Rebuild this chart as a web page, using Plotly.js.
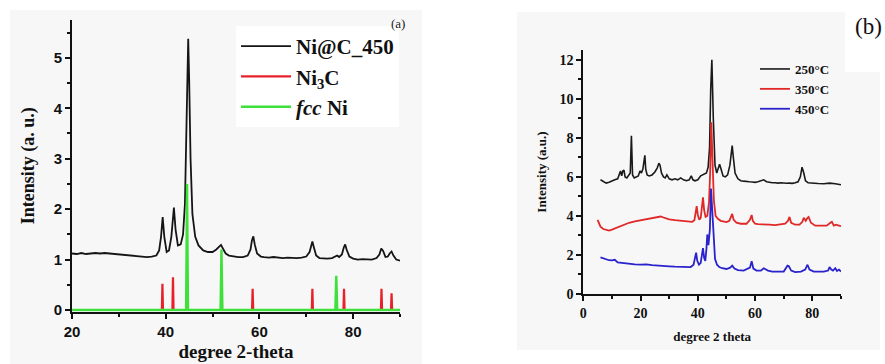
<!DOCTYPE html>
<html>
<head>
<meta charset="utf-8">
<script src="https://cdn.plot.ly/plotly-3.0.1.min.js"></script>
<style>html,body{margin:0;padding:0;background:#fff;}#chart{width:885px;height:364px;}</style>
</head>
<body>
<div id="chart"></div>
<script>
// ---------- Panel (a): Ni@C_450 with reference patterns ----------
var aSampleX = [20,21,22,23,24,25,26,27,28,29,30,31,32,33,34,35,36,37,38,38.6,39.0,39.35,39.7,40.2,40.7,41.2,41.5,41.75,42.1,42.6,43.2,43.7,44.1,44.4,44.6,44.8,45.0,45.3,45.7,46.3,47,48,49,50,50.8,51.4,51.8,52.2,52.8,53.5,54.5,55.5,56.5,57.5,58.1,58.4,58.7,59.0,59.5,60.3,61,62,63,64,65,66,67,68,69,70,70.7,71.0,71.3,71.6,72.1,72.8,73.5,74.5,75.5,76.2,76.6,77.0,77.6,78.0,78.3,78.6,79.2,80,81,82,83,84,85,85.6,86.0,86.4,86.9,87.4,87.8,88.2,88.6,89.2,90];
var aSampleY = [1.12,1.11,1.13,1.11,1.12,1.13,1.12,1.13,1.12,1.11,1.10,1.09,1.08,1.07,1.06,1.06,1.05,1.06,1.08,1.18,1.45,1.84,1.45,1.15,1.18,1.45,1.85,2.03,1.6,1.28,1.3,1.5,2.1,3.6,4.9,5.38,4.6,3.0,1.9,1.45,1.28,1.18,1.15,1.15,1.2,1.26,1.29,1.22,1.12,1.08,1.06,1.05,1.05,1.08,1.2,1.38,1.46,1.3,1.12,1.06,1.05,1.04,1.05,1.04,1.03,1.04,1.03,1.03,1.04,1.06,1.15,1.28,1.36,1.25,1.08,1.03,1.02,1.02,1.03,1.06,1.08,1.05,1.1,1.24,1.3,1.2,1.06,1.02,1.0,1.01,1.0,1.0,1.03,1.1,1.22,1.17,1.05,1.06,1.12,1.16,1.08,1.0,0.98];

var ni3cPos = [39.3,41.55,58.55,71.3,78.05,86.05,88.2];
var ni3cHeight = [0.52,0.65,0.42,0.42,0.42,0.42,0.33];

var fccPos = [44.55,51.9,76.4];
var fccHeight = [2.5,1.2,0.68];

// ---------- Panel (b): temperature series ----------
var t250X = [6,7,8,9,10,11,12,12.6,13,13.4,13.8,14.2,14.6,15.2,15.8,16.4,16.8,17.2,17.8,18.5,19.2,19.8,20.3,20.8,21.2,21.5,21.8,22.3,23,24,25,25.8,26.4,26.8,27.3,28,28.6,29.2,30,31,32,33,34,35,36,37,37.7,38.3,39,40,41,41.6,42.3,43,43.6,44.1,44.5,44.9,45.4,46,46.6,47.2,47.6,48.1,48.8,49.6,50.4,51.2,51.6,52.0,52.4,53,54,55,56,57,58,59,60,61,62,63,64,65,66,67,68,69,70,71,72,73,74,75,75.8,76.4,77,77.6,78.5,80,82,84,86,88,90];
var t250Y = [5.85,5.75,5.68,5.72,5.8,5.85,5.9,6.2,6.3,6.05,6.3,6.35,6.0,5.95,6.05,6.2,8.1,6.1,5.95,6.0,6.05,6.3,6.2,6.4,6.9,7.1,6.4,6.1,6.05,6.1,6.25,6.45,6.7,6.6,6.2,6.0,5.95,6.1,5.9,5.85,5.9,5.85,5.95,5.85,5.8,5.85,6.05,5.85,5.8,5.85,6.05,6.1,6.15,6.2,6.5,7.5,10.5,12.0,9.0,6.6,6.2,6.45,6.65,6.4,6.05,6.0,6.1,6.6,7.3,7.6,7.0,6.2,5.9,5.8,5.78,5.75,5.75,5.74,5.72,5.75,5.8,5.85,5.75,5.72,5.7,5.7,5.68,5.7,5.68,5.67,5.68,5.67,5.7,5.75,6.0,6.5,6.2,5.8,5.7,5.67,5.66,5.65,5.68,5.65,5.6];

var t350X = [5,5.5,6,7,8,9,10,11,12,14,16,18,20,22,24,26,27,28,30,32,34,36,38,38.8,39.3,39.6,40.0,40.5,41.0,41.5,41.8,42.2,42.7,43.3,43.9,44.3,44.7,45.1,45.6,46.2,47,48,49,50,51,51.6,52.0,52.5,53.5,55,57,58.2,58.8,59.2,60,61,63,65,67,69,70.5,71.5,72.0,72.6,74,75.5,76.5,77,77.7,78.3,78.7,79.5,81,83,85,86.3,86.8,87.5,88.3,89,90];
var t350Y = [3.8,3.6,3.45,3.33,3.28,3.25,3.3,3.36,3.43,3.55,3.65,3.72,3.78,3.85,3.9,3.95,3.97,3.92,3.82,3.78,3.75,3.72,3.7,3.78,4.2,4.5,4.05,3.8,3.9,4.5,4.95,4.3,3.95,4.0,4.7,6.2,8.8,7.0,4.8,4.0,3.85,3.75,3.7,3.68,3.75,4.0,4.1,3.8,3.65,3.6,3.6,3.8,4.05,3.75,3.6,3.58,3.55,3.55,3.53,3.55,3.6,3.75,3.95,3.65,3.55,3.55,3.7,3.9,3.75,3.9,3.95,3.65,3.5,3.5,3.5,3.65,3.7,3.5,3.55,3.52,3.48];

var t450X = [6,7,8,9,10,11,12,14,16,18,20,22,24,26,28,30,32,34,36,37.5,38.5,39.0,39.4,39.8,40.4,41.0,41.5,41.8,42.2,42.6,43.0,43.3,43.7,44.2,44.6,45.0,45.5,46.0,46.7,47.5,48.5,50,51.3,52.0,52.8,54,56,58.2,58.8,59.4,60.5,62,63,64.5,66,68,70,71.3,71.8,72.6,74,76,77.5,78.3,79,80.5,82,84,85.5,86,86.6,87.2,88,88.6,89.3,90];
var t450Y = [1.88,1.82,1.75,1.73,1.72,1.75,1.62,1.58,1.55,1.52,1.5,1.52,1.48,1.45,1.44,1.42,1.4,1.38,1.36,1.38,1.5,1.85,2.12,1.7,1.5,1.6,2.05,2.35,1.85,1.7,2.3,3.05,2.5,3.3,5.4,4.3,2.6,1.8,1.5,1.38,1.32,1.28,1.35,1.45,1.3,1.22,1.2,1.35,1.68,1.3,1.2,1.2,1.32,1.2,1.15,1.15,1.15,1.45,1.42,1.2,1.12,1.15,1.25,1.5,1.25,1.15,1.15,1.15,1.2,1.38,1.25,1.2,1.32,1.18,1.25,1.15];

var panelBLabels = ['250°C','350°C','450°C'];

// Build stick-pattern line traces from positions/heights
function sticks(pos, h, halfW, x0, x1) {
  var xs = [x0], ys = [0];
  for (var i = 0; i < pos.length; i++) {
    xs.push(pos[i] - halfW, pos[i], pos[i] + halfW);
    ys.push(0, h[i], 0);
  }
  xs.push(x1); ys.push(0);
  return {x: xs, y: ys};
}
var ni3c = sticks(ni3cPos, ni3cHeight, 0.12, 20, 90);
var fcc = sticks(fccPos, fccHeight, 0.2, 20, 90);

var serifB = {family: 'Liberation Serif, Times New Roman, serif', weight: 'bold', color: '#111'};
var sansB = {family: 'Liberation Sans, Arial, sans-serif', weight: 'bold', color: '#111'};

var data = [
  {x: aSampleX, y: aSampleY, type: 'scatter', mode: 'lines', name: 'Ni@C_450',
   line: {color: '#151515', width: 1.8}, xaxis: 'x', yaxis: 'y', legend: 'legend'},
  {x: ni3c.x, y: ni3c.y, type: 'scatter', mode: 'lines', name: 'Ni<sub>3</sub>C',
   line: {color: '#e8202a', width: 2.2}, xaxis: 'x', yaxis: 'y', legend: 'legend'},
  {x: fcc.x, y: fcc.y, type: 'scatter', mode: 'lines', name: '<i>fcc</i> Ni',
   line: {color: '#3ee03a', width: 2.4}, xaxis: 'x', yaxis: 'y', legend: 'legend'},
  {x: t250X, y: t250Y, type: 'scatter', mode: 'lines', name: panelBLabels[0],
   line: {color: '#1a1a1a', width: 1.6}, xaxis: 'x2', yaxis: 'y2', legend: 'legend2'},
  {x: t350X, y: t350Y, type: 'scatter', mode: 'lines', name: panelBLabels[1],
   line: {color: '#e02828', width: 1.8}, xaxis: 'x2', yaxis: 'y2', legend: 'legend2'},
  {x: t450X, y: t450Y, type: 'scatter', mode: 'lines', name: panelBLabels[2],
   line: {color: '#2a22cc', width: 1.8}, xaxis: 'x2', yaxis: 'y2', legend: 'legend2'}
];

function px(v) { return v / 885; }
function py(v) { return 1 - v / 364; }

var layout = {
  width: 885, height: 364,
  margin: {l: 0, r: 0, t: 0, b: 0},
  paper_bgcolor: '#ffffff',
  plot_bgcolor: 'rgba(0,0,0,0)',
  showlegend: true,
  xaxis: {
    domain: [px(72), px(400)], range: [20, 90], anchor: 'y',
    dtick: 20, tick0: 20, ticks: 'outside', ticklen: 5, tickwidth: 2, tickcolor: '#111',
    showline: true, linewidth: 2, linecolor: '#111', showgrid: false, zeroline: false,
    minor: {dtick: 10, ticks: 'outside', ticklen: 3, tickwidth: 2, tickcolor: '#111', showgrid: false},
    tickfont: Object.assign({size: 15}, sansB),
    title: {text: 'degree 2-theta', font: Object.assign({size: 19}, serifB), standoff: 6},
    layer: 'below traces', automargin: false
  },
  yaxis: {
    domain: [py(311.5), py(20)], range: [-0.03, 5.75], anchor: 'x',
    dtick: 1, tick0: 0, ticks: 'outside', ticklen: 5, tickwidth: 2, tickcolor: '#111',
    showline: true, linewidth: 2, linecolor: '#111', showgrid: false, zeroline: false,
    minor: {dtick: 0.5, ticks: 'outside', ticklen: 3, tickwidth: 2, tickcolor: '#111', showgrid: false},
    tickfont: Object.assign({size: 15}, sansB),
    title: {text: 'Intensity (a. u.)', font: Object.assign({size: 18}, serifB), standoff: 14},
    layer: 'below traces', automargin: false
  },
  xaxis2: {
    domain: [px(583.3), px(841)], range: [0, 90], anchor: 'y2',
    dtick: 20, tick0: 0, ticks: 'outside', ticklen: 5, tickwidth: 2, tickcolor: '#111',
    showline: true, linewidth: 2, linecolor: '#111', showgrid: false, zeroline: false,
    minor: {dtick: 10, ticks: 'outside', ticklen: 3, tickwidth: 2, tickcolor: '#111', showgrid: false},
    tickfont: Object.assign({size: 14}, serifB),
    title: {text: 'degree 2 theta', font: Object.assign({size: 13}, serifB), standoff: 12},
    automargin: false
  },
  yaxis2: {
    domain: [py(294), py(50)], range: [0, 12.5], anchor: 'x2',
    dtick: 2, tick0: 0, ticks: 'outside', ticklen: 5, tickwidth: 2, tickcolor: '#111',
    showline: true, linewidth: 2, linecolor: '#111', showgrid: false, zeroline: false,
    minor: {dtick: 1, ticks: 'outside', ticklen: 3, tickwidth: 2, tickcolor: '#111', showgrid: false},
    tickfont: Object.assign({size: 14}, serifB),
    title: {text: 'Intensity (a.u.)', font: Object.assign({size: 13}, serifB), standoff: 10},
    automargin: false
  },
  legend: {
    x: px(236), y: py(26), xanchor: 'left', yanchor: 'top',
    bgcolor: '#ffffff', borderwidth: 0,
    font: Object.assign({size: 21}, serifB),
    itemwidth: 50, tracegroupgap: 0
  },
  legend2: {
    x: px(755), y: py(54), xanchor: 'left', yanchor: 'top',
    bgcolor: 'rgba(0,0,0,0)', borderwidth: 0,
    font: Object.assign({size: 13}, serifB),
    itemwidth: 30, tracegroupgap: 0
  },
  shapes: [
    {type: 'rect', xref: 'paper', yref: 'paper', x0: px(10), x1: px(422), y0: py(364), y1: py(10),
     fillcolor: '#f7f7f7', line: {width: 0}, layer: 'below'},
    {type: 'rect', xref: 'paper', yref: 'paper', x0: px(517), x1: px(880), y0: py(350), y1: py(12),
     fillcolor: '#f7f7f7', line: {width: 0}, layer: 'below'},
    {type: 'rect', xref: 'paper', yref: 'paper', x0: px(845), x1: px(885), y0: py(72), y1: py(0),
     fillcolor: '#ffffff', line: {width: 0}, layer: 'below'}
  ],
  annotations: [
    {text: '(a)', xref: 'paper', yref: 'paper', x: px(398), y: py(23), showarrow: false,
     xanchor: 'center', yanchor: 'middle',
     font: {family: 'Liberation Serif, Times New Roman, serif', size: 13, color: '#222'}},
    {text: '(b)', xref: 'paper', yref: 'paper', x: px(868), y: py(27), showarrow: false,
     xanchor: 'center', yanchor: 'middle',
     font: {family: 'Liberation Serif, Times New Roman, serif', size: 23, color: '#111'}}
  ]
};

Plotly.newPlot('chart', data, layout, {displayModeBar: false, staticPlot: true});
</script>
</body>
</html>
